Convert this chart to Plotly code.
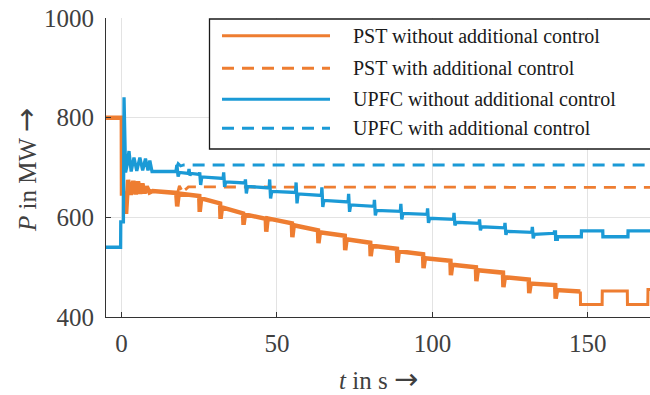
import plotly.graph_objects as go

# ---------------- data ----------------
# PST without additional control: initial transient (t in s, P in MW)
pst_t0 = [-5, 0.1, 0.15, 0.9, 1.0, 1.5, 2.1, 3.0, 3.8, 4.6, 5.3, 6.0, 6.7, 7.4, 8.1, 9.0, 10.0, 17.6, 17.9, 18.4, 25.0]
pst_v0 = [800, 800, 648, 648, 611, 611, 675, 645, 673, 646, 672, 647, 668, 648, 662, 650, 653, 649, 622, 648, 643]
# staircase: step times, dip value, level after step, level before next step
pst_step_t = [25.0, 31.7, 39.1, 46.4, 54.8, 63.2, 71.8, 80.0, 88.6, 97.0, 105.8, 114.0, 122.7, 131.0, 139.5]
pst_step_dip = [611, 597, 585, 571, 560, 548, 534, 522, 509, 498, 484, 472, 460, 448, 437]
pst_step_start = [638, 620, 606, 598, 584, 570, 556, 543, 532, 518, 505, 494, 480, 467, 454]
pst_step_end = [628, 608, 597, 588, 574, 563, 549, 537, 526, 513, 500, 489, 475, 464, 451]
# clean switching at the end
pst_sq_t = [147.6, 154.6, 162.7, 169.3, 170.0]
pst_sq_v = [425, 452, 425, 455, 455]

# UPFC without additional control
upfc_t0 = [-5, -0.3, -0.25, 0.6, 0.8, 1.3, 1.8, 2.4, 3.1, 4.0, 4.9, 5.9, 6.8, 7.7, 8.5, 9.1, 9.8,
           17.5, 17.8, 18.2, 18.6, 21.5, 21.7, 22.0, 22.4, 25.0]
upfc_v0 = [540, 540, 591, 591, 841, 690, 705, 733, 692, 720, 693, 720, 694, 718, 694, 714, 692,
           692, 705, 682, 690, 688, 697, 684, 688, 686]
upfc_step_t = [25.0, 32.7, 39.7, 47.5, 56.0, 64.3, 72.9, 81.2, 89.7, 98.3, 106.8, 115.0, 123.2, 132.0]
upfc_step_up = [690, 690, 676, 676, 670, 660, 647, 635, 627, 618, 609, 596, 589, 581]
upfc_step_down = [665, 661, 648, 638, 628, 621, 611, 604, 596, 589, 584, 574, 565, 558]
upfc_step_start = [681, 671, 662, 652, 647, 634, 625, 614, 608, 598, 590, 581, 572, 566]
upfc_step_end = [678, 669, 659, 650, 644, 631, 622, 612, 606, 596, 588, 579, 570, 568]
upfc_sq_t = [138.8, 139.2, 139.6, 140.2, 147.9, 154.8, 162.9, 170.0]
upfc_sq_v = [568, 571, 556, 561, 573, 561, 573, 573]

# with additional control (dashed)
pst_ctrl_t = [18.0, 18.6, 19.3, 20.0, 20.8, 21.5, 170.0]
pst_ctrl_v = [648, 663, 655, 664, 657, 661, 660]
upfc_ctrl_t = [17.7, 18.2, 19.0, 20.0, 170.0]
upfc_ctrl_v = [700, 708, 703, 705, 705]

legend_labels = ["PST without additional control", "PST with additional control",
                 "UPFC without additional control", "UPFC with additional control"]

C_PST = "#EE7D31"
C_UPFC = "#1B9AD6"
FONT = "Liberation Serif, Times New Roman, serif"
ARROW = '<span style="font-family:DejaVu Sans;font-size:29px;">→</span>'


def staircase(t0, v0, st, dips, starts, ends, last_t):
    xs, ys = list(t0), list(v0)
    for i, t in enumerate(st):
        nxt = st[i + 1] if i + 1 < len(st) else last_t
        xs += [t + 0.15, t + 0.6, nxt]
        ys += [dips[i], starts[i], ends[i]]
    return xs, ys


def wiggle_stairs(t0, v0, st, ups, downs, starts, ends, last_t):
    xs, ys = list(t0), list(v0)
    for i, t in enumerate(st):
        nxt = st[i + 1] if i + 1 < len(st) else last_t
        xs += [t + 0.15, t + 0.45, t + 0.8, nxt]
        ys += [ups[i], downs[i], starts[i], ends[i]]
    return xs, ys


def square(ts, vs, prev):
    xs, ys = [], []
    for t, v in zip(ts, vs):
        xs += [t, t + 0.05]
        ys += [prev, v]
        prev = v
    return xs, ys


px, py = staircase(pst_t0, pst_v0, pst_step_t, pst_step_dip, pst_step_start, pst_step_end, pst_sq_t[0])
sx, sy = square(pst_sq_t, pst_sq_v, pst_step_end[-1])
ux, uy = wiggle_stairs(upfc_t0, upfc_v0, upfc_step_t, upfc_step_up, upfc_step_down,
                       upfc_step_start, upfc_step_end, upfc_sq_t[0])
qx, qy = square(upfc_sq_t, upfc_sq_v, upfc_step_end[-1])

fig = go.Figure()
fig.add_trace(go.Scatter(x=px, y=py, mode="lines", name=legend_labels[0],
                         line=dict(color=C_PST, width=4.5), showlegend=False))
fig.add_trace(go.Scatter(x=[px[-1]] + sx, y=[py[-1]] + sy, mode="lines", name=legend_labels[0],
                         line=dict(color=C_PST, width=3), showlegend=False))
fig.add_trace(go.Scatter(x=pst_ctrl_t, y=pst_ctrl_v, mode="lines", name=legend_labels[1],
                         line=dict(color=C_PST, width=2.8, dash="12px,8px"), showlegend=False))
fig.add_trace(go.Scatter(x=ux + qx, y=uy + qy, mode="lines", name=legend_labels[2],
                         line=dict(color=C_UPFC, width=3.3), showlegend=False))
fig.add_trace(go.Scatter(x=upfc_ctrl_t, y=upfc_ctrl_v, mode="lines", name=legend_labels[3],
                         line=dict(color=C_UPFC, width=2.8, dash="12px,8px"), showlegend=False))

# plot area geometry in px
L, R, T, B = 106, 0, 18, 78
W, H = 650 - L - R, 395 - T - B


def pxx(x):
    return (x - L) / W


def pyy(y):
    return (395 - B - y) / H


shapes = [dict(type="rect", xref="paper", yref="paper", x0=pxx(209.5), x1=pxx(652),
               y0=pyy(149), y1=pyy(19), line=dict(color="#1a1a1a", width=1.3),
               fillcolor="white", layer="above")]
annotations = []
row_y = [35.7, 68.3, 99.3, 128.3]
row_col = [C_PST, C_PST, C_UPFC, C_UPFC]
row_dash = ["solid", "12px,8px", "solid", "12px,8px"]
for lab, yy, cc, dd in zip(legend_labels, row_y, row_col, row_dash):
    shapes.append(dict(type="line", xref="paper", yref="paper", x0=pxx(222), x1=pxx(330),
                       y0=pyy(yy), y1=pyy(yy), line=dict(color=cc, width=3, dash=dd), layer="above"))
    annotations.append(dict(xref="paper", yref="paper", x=pxx(351), y=pyy(yy), text=lab,
                            showarrow=False, xanchor="left", yanchor="middle",
                            font=dict(family=FONT, size=20, color="#1a1a1a")))

annotations.append(dict(xref="paper", yref="paper", x=pxx(378), y=pyy(379),
                        text="<i>t</i> in s " + ARROW,
                        showarrow=False, xanchor="center", yanchor="middle",
                        font=dict(family=FONT, size=25, color="#404040")))
annotations.append(dict(xref="paper", yref="paper", x=pxx(26), y=pyy(170),
                        text="<i>P</i> in MW " + ARROW,
                        showarrow=False, xanchor="center", yanchor="middle", textangle=-90,
                        font=dict(family=FONT, size=25, color="#404040")))

axis_common = dict(showline=True, linecolor="#333333", linewidth=1.2, ticks="inside", ticklen=5,
                   tickcolor="#333333", showgrid=True, gridcolor="#e3e3e3", gridwidth=1,
                   zeroline=False, tickfont=dict(family=FONT, size=25, color="#404040"),
                   mirror=False)

fig.update_layout(
    width=650, height=395, autosize=False,
    margin=dict(l=L, r=R, t=T, b=B, pad=0),
    paper_bgcolor="white", plot_bgcolor="white",
    shapes=shapes, annotations=annotations,
    xaxis=dict(range=[-5, 170], tickvals=[0, 50, 100, 150], ticklabelstandoff=4, **axis_common),
    yaxis=dict(range=[400, 1000], tickvals=[400, 600, 800, 1000], ticklabelstandoff=6, **axis_common),
)

fig.write_html("out.html")
